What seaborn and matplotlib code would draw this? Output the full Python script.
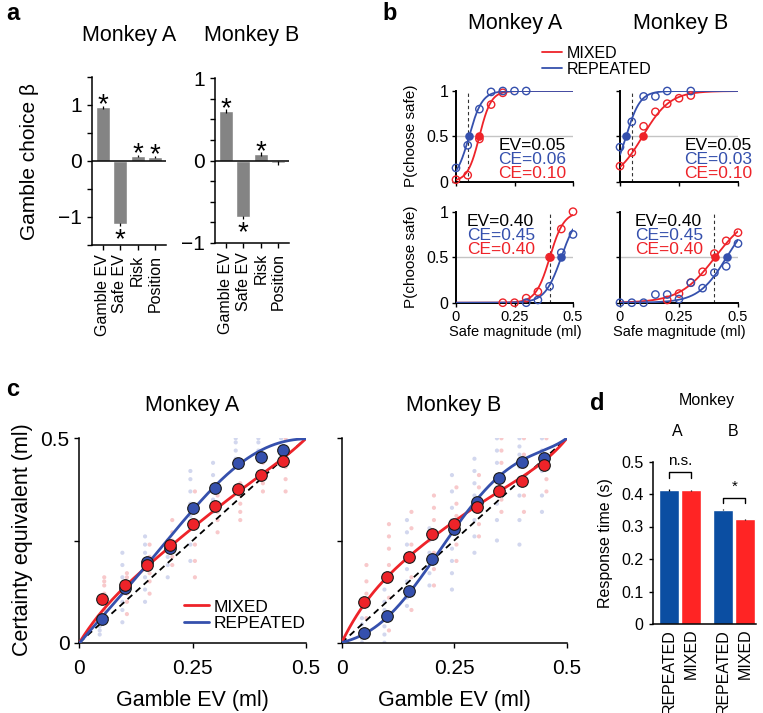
import numpy as np
import pandas as pd
import matplotlib
matplotlib.use("Agg")
import matplotlib.pyplot as plt
import seaborn as sns
from matplotlib.lines import Line2D

# ---------------- panel a data ----------------
regressors = ["Gamble EV", "Safe EV", "Risk", "Position"]
beta_A = [0.96, -1.13, 0.09, 0.07]
beta_A_err = [0.03, 0.03, 0.02, 0.02]
sig_A = [True, True, True, True]
beta_B = [0.60, -0.69, 0.08, -0.03]
beta_B_err = [0.02, 0.02, 0.02, 0.02]
sig_B = [True, True, True, False]

# ---------------- panel b data ----------------
ev_low = 0.05
ev_high = 0.40
bA_low_rep_x = [0.00, 0.05, 0.10, 0.15, 0.20, 0.25, 0.30]
bA_low_rep_p = [0.15, 0.40, 0.80, 0.99, 1.00, 1.00, 1.00]
bA_low_mix_x = [0.00, 0.05, 0.10, 0.15, 0.20]
bA_low_mix_p = [0.02, 0.07, 0.47, 0.85, 0.98]
bB_low_rep_x = [0.00, 0.05, 0.10, 0.15, 0.20, 0.30]
bB_low_rep_p = [0.38, 0.66, 0.94, 0.94, 1.00, 1.00]
bB_low_mix_x = [0.00, 0.05, 0.10, 0.15, 0.20, 0.25, 0.30]
bB_low_mix_p = [0.17, 0.32, 0.61, 0.77, 0.86, 0.92, 0.95]
bA_high_rep_x = [0.30, 0.35, 0.40, 0.45, 0.50]
bA_high_rep_p = [0.00, 0.03, 0.18, 0.55, 0.75]
bA_high_mix_x = [0.20, 0.25, 0.30, 0.35, 0.40, 0.45, 0.50]
bA_high_mix_p = [0.00, 0.00, 0.05, 0.12, 0.50, 0.81, 1.00]
bB_high_rep_x = [0.00, 0.05, 0.10, 0.15, 0.20, 0.25, 0.30, 0.35, 0.40, 0.45, 0.50]
bB_high_rep_p = [0.00, 0.00, 0.00, 0.09, 0.09, 0.04, 0.22, 0.16, 0.33, 0.40, 0.65]
bB_high_mix_x = [0.20, 0.25, 0.30, 0.35, 0.40, 0.45, 0.50]
bB_high_mix_p = [0.03, 0.10, 0.22, 0.34, 0.54, 0.68, 0.77]
# fitted logistic parameters (indifference point = CE, width)
bA_low_fit_rep = (0.056, 0.028)
bA_low_fit_mix = (0.100, 0.025)
bB_low_fit_rep = (0.026, 0.030)
bB_low_fit_mix = (0.096, 0.058)
bA_high_fit_rep = (0.450, 0.035)
bA_high_fit_mix = (0.401, 0.030)
bB_high_fit_rep = (0.452, 0.060)
bB_high_fit_mix = (0.403, 0.075)
bA_low_text = ["EV=0.05", "CE=0.06", "CE=0.10"]
bB_low_text = ["EV=0.05", "CE=0.03", "CE=0.10"]
bA_high_text = ["EV=0.40", "CE=0.45", "CE=0.40"]
bB_high_text = ["EV=0.40", "CE=0.45", "CE=0.40"]

# ---------------- panel c data ----------------
gamble_ev = [0.05, 0.10, 0.15, 0.20, 0.25, 0.30, 0.35, 0.40, 0.45]
cA_mix_mean = [0.106, 0.140, 0.189, 0.239, 0.291, 0.334, 0.376, 0.410, 0.445]
cA_rep_mean = [0.057, 0.135, 0.198, 0.231, 0.330, 0.378, 0.440, 0.455, 0.471]
cB_mix_mean = [0.100, 0.161, 0.210, 0.266, 0.290, 0.333, 0.370, 0.396, 0.435]
cB_rep_mean = [0.024, 0.065, 0.126, 0.205, 0.277, 0.343, 0.404, 0.442, 0.451]
curve_ev = [0.0, 0.05, 0.10, 0.15, 0.20, 0.25, 0.30, 0.35, 0.40, 0.45, 0.50]
cA_mix_curve = [0.0, 0.076, 0.137, 0.188, 0.235, 0.280, 0.325, 0.370, 0.410, 0.451, 0.500]
cA_rep_curve = [0.0, 0.057, 0.130, 0.198, 0.251, 0.325, 0.382, 0.439, 0.470, 0.489, 0.500]
cB_mix_curve = [0.0, 0.096, 0.157, 0.210, 0.261, 0.296, 0.329, 0.374, 0.406, 0.443, 0.500]
cB_rep_curve = [0.0, 0.023, 0.060, 0.120, 0.200, 0.276, 0.350, 0.406, 0.447, 0.471, 0.500]
cA_rep_sessions = [
    [0.02, 0.03, 0.04, 0.05, 0.06, 0.065],
    [0.05, 0.08, 0.10, 0.12, 0.14, 0.16, 0.19, 0.22],
    [0.10, 0.13, 0.16, 0.18, 0.20, 0.22, 0.24, 0.26],
    [0.16, 0.19, 0.21, 0.23, 0.25],
    [0.20, 0.24, 0.28, 0.31, 0.34, 0.37, 0.40, 0.42],
    [0.32, 0.35, 0.38, 0.41, 0.44],
    [0.43, 0.45, 0.47, 0.49, 0.50],
    [0.45, 0.47, 0.49, 0.50],
    [0.44, 0.46, 0.48, 0.50],
]
cA_mix_sessions = [
    [0.08, 0.10, 0.12, 0.14, 0.15, 0.16],
    [0.07, 0.10, 0.12, 0.14, 0.16, 0.17],
    [0.12, 0.15, 0.17, 0.19, 0.21, 0.24],
    [0.19, 0.21, 0.23, 0.25, 0.27, 0.30],
    [0.16, 0.20, 0.24, 0.28, 0.30, 0.33, 0.37],
    [0.27, 0.30, 0.32, 0.34, 0.36],
    [0.30, 0.32, 0.34, 0.36, 0.39],
    [0.37, 0.39, 0.41, 0.42, 0.44],
    [0.37, 0.40, 0.43, 0.45, 0.47, 0.50],
]
cB_rep_sessions = [
    [0.00, 0.01, 0.02, 0.03, 0.045, 0.06],
    [0.00, 0.02, 0.04, 0.06, 0.08, 0.10, 0.13],
    [0.09, 0.11, 0.13, 0.15, 0.18, 0.21, 0.24, 0.27, 0.30],
    [0.14, 0.17, 0.20, 0.22, 0.25, 0.28],
    [0.13, 0.17, 0.20, 0.23, 0.27, 0.30, 0.33, 0.37, 0.41],
    [0.22, 0.26, 0.30, 0.33, 0.36, 0.39, 0.42, 0.45],
    [0.25, 0.30, 0.34, 0.38, 0.41, 0.44, 0.47, 0.50],
    [0.24, 0.30, 0.36, 0.40, 0.43, 0.46, 0.48, 0.50],
    [0.32, 0.36, 0.42, 0.45, 0.47, 0.50],
]
cB_mix_sessions = [
    [0.03, 0.06, 0.09, 0.12, 0.15, 0.19],
    [0.03, 0.07, 0.11, 0.15, 0.19, 0.23, 0.26, 0.29],
    [0.08, 0.12, 0.16, 0.20, 0.24, 0.28, 0.32],
    [0.14, 0.18, 0.22, 0.26, 0.30, 0.33, 0.36],
    [0.20, 0.24, 0.28, 0.31, 0.34, 0.38],
    [0.26, 0.29, 0.32, 0.35, 0.38, 0.41],
    [0.32, 0.35, 0.38, 0.41, 0.44, 0.47, 0.50],
    [0.32, 0.36, 0.40, 0.43, 0.46, 0.50],
    [0.37, 0.40, 0.43, 0.46, 0.50],
]

# ---------------- panel d data ----------------
rt_condition = ["REPEATED", "MIXED", "REPEATED", "MIXED"]
rt_monkey = ["A", "A", "B", "B"]
rt_value = [0.413, 0.411, 0.352, 0.322]
rt_err = [0.003, 0.002, 0.002, 0.001]
rt_sig = ["n.s.", "*"]

# ---------------- style ----------------
sns.set_theme(style="ticks", rc={
    "axes.edgecolor": "black", "xtick.color": "black", "ytick.color": "black",
    "text.color": "black", "axes.labelcolor": "black", "axes.linewidth": 1.1,
    "xtick.major.width": 1.0, "ytick.major.width": 1.0,
    "xtick.major.size": 3.5, "ytick.major.size": 3.5,
})
plt.rcParams["font.family"] = ["Liberation Sans", "DejaVu Sans"]

RED = "#ee2329"
BLUE = "#3550ad"
GREY = "#848484"
D_BLUE = "#0b4ea2"
D_RED = "#ff2424"

W, H = 763, 713
fig = plt.figure(figsize=(W / 100, H / 100), dpi=100)


def add_ax(l, t, r, b):
    return fig.add_axes([l / W, 1 - b / H, (r - l) / W, (b - t) / H])


def ftext(x, y, s, **kw):
    fig.text(x / W, 1 - y / H, s, **kw)


def clean(ax):
    sns.despine(ax=ax)


# ---------------- panel a ----------------
def beta_panel(ax, vals, errs, sig, ylim, yticks):
    df = pd.DataFrame({"reg": regressors, "beta": vals})
    sns.barplot(data=df, x="reg", y="beta", color=GREY, saturation=1,
                width=0.8, errorbar=None, ax=ax, zorder=2)
    ax.errorbar(range(len(vals)), vals, yerr=errs, fmt="none",
                ecolor="black", elinewidth=0.9, capsize=0, zorder=3)
    ax.axhline(0, color="black", lw=1.1, zorder=4)
    ax.set_xlim(-0.6, 3.6)
    ax.set_ylim(*ylim)
    ax.set_yticks(yticks)
    ax.set_yticklabels(["\u22121" if t == -1 else ("0" if t == 0 else ("1" if t == 1 else ""))
                        for t in yticks], fontsize=15)
    ax.set_xticks(range(len(regressors)))
    ax.set_xticklabels(regressors, rotation=90, fontsize=11.5)
    ax.set_xlabel("")
    ax.set_ylabel("")
    fs = 20
    em = fs * 100 / 72
    for i, (v, e, s) in enumerate(zip(vals, errs, sig)):
        if not s:
            continue
        if v > 0:
            off = (9.5 - 0.575 * em) * 72 / 100
            ax.annotate("*", (i, v + e), xytext=(0, off), textcoords="offset points",
                        ha="center", va="baseline", fontsize=fs)
        else:
            off = (-5.0 - 0.575 * em) * 72 / 100
            ax.annotate("*", (i, v - e), xytext=(0, off), textcoords="offset points",
                        ha="center", va="baseline", fontsize=fs)
    clean(ax)


axA = add_ax(92, 77, 165.5, 245)
beta_panel(axA, beta_A, beta_A_err, sig_A, (-1.5, 1.5),
           [-1.5, -1, -0.5, 0, 0.5, 1, 1.5])
axB = add_ax(215, 78, 289, 243)
beta_panel(axB, beta_B, beta_B_err, sig_B, (-1, 1),
           [-1, -0.75, -0.5, -0.25, 0, 0.25, 0.5, 0.75, 1])
ftext(129, 36, "Monkey A", ha="center", va="center", fontsize=15.5)
ftext(252, 36, "Monkey B", ha="center", va="center", fontsize=15.5)
ftext(30, 161, "Gamble choice \u03b2", rotation=90, ha="center", va="center", fontsize=15)


# ---------------- panel b ----------------
def logistic(x, mid, width):
    return 1.0 / (1.0 + np.exp(-(x - mid) / width))


def psy_panel(ax, ev, rep_x, rep_p, mix_x, mix_p, fit_rep, fit_mix, texts,
              text_pos, left, bottom):
    xs = np.linspace(0, 0.5, 300)
    ax.axhline(0.5, color="#c4c4c4", lw=1.0, zorder=1)
    ax.axvline(ev, color="#333333", lw=0.8, ls=(0, (3, 2.5)), zorder=1)
    sns.lineplot(x=xs, y=logistic(xs, *fit_mix), color=RED, lw=1.3, ax=ax, zorder=3)
    sns.lineplot(x=xs, y=logistic(xs, *fit_rep), color=BLUE, lw=1.3, ax=ax, zorder=3)
    sns.scatterplot(x=mix_x, y=mix_p, marker="o", s=28, facecolor="none",
                    edgecolor=RED, linewidth=1.0, ax=ax, zorder=4, clip_on=False)
    sns.scatterplot(x=rep_x, y=rep_p, marker="o", s=28, facecolor="none",
                    edgecolor=BLUE, linewidth=1.0, ax=ax, zorder=4, clip_on=False)
    sns.scatterplot(x=[fit_mix[0]], y=[0.5], marker="o", s=38, color=RED,
                    linewidth=0, ax=ax, zorder=5)
    sns.scatterplot(x=[fit_rep[0]], y=[0.5], marker="o", s=38, color=BLUE,
                    linewidth=0, ax=ax, zorder=5)
    ax.set_xlim(0, 0.5)
    ax.set_ylim(0, 1)
    ax.set_xticks([0, 0.25, 0.5])
    ax.set_yticks([0, 0.5, 1])
    if bottom:
        ax.set_xticklabels(["0", "0.25", "0.5"], fontsize=10.5)
    else:
        ax.set_xticklabels([])
    if left:
        ax.set_yticklabels(["0", "0.5", "1"], fontsize=11.5)
    else:
        ax.set_yticklabels([])
    ax.tick_params(length=3, pad=2.5)
    for sp in ["left", "bottom"]:
        ax.spines[sp].set_linewidth(1.4)
    clean(ax)
    tx, ty, ha = text_pos
    for k, (t, c) in enumerate(zip(texts, ["black", BLUE, RED])):
        ftext(tx, ty + 14 * k, t, ha=ha, va="center", fontsize=12.5, color=c)


b1 = add_ax(456, 91, 573, 181.5)
psy_panel(b1, ev_low, bA_low_rep_x, bA_low_rep_p, bA_low_mix_x, bA_low_mix_p,
          bA_low_fit_rep, bA_low_fit_mix, bA_low_text, (566, 145.5, "right"), True, False)
b2 = add_ax(620, 91, 738, 181.5)
psy_panel(b2, ev_low, bB_low_rep_x, bB_low_rep_p, bB_low_mix_x, bB_low_mix_p,
          bB_low_fit_rep, bB_low_fit_mix, bB_low_text, (752, 145.5, "right"), False, False)
b3 = add_ax(456, 211.7, 573, 302.7)
psy_panel(b3, ev_high, bA_high_rep_x, bA_high_rep_p, bA_high_mix_x, bA_high_mix_p,
          bA_high_fit_rep, bA_high_fit_mix, bA_high_text, (467, 221, "left"), True, True)
b4 = add_ax(620, 211.7, 738, 302.7)
psy_panel(b4, ev_high, bB_high_rep_x, bB_high_rep_p, bB_high_mix_x, bB_high_mix_p,
          bB_high_fit_rep, bB_high_fit_mix, bB_high_text, (635, 221, "left"), False, True)
ftext(515, 23, "Monkey A", ha="center", va="center", fontsize=15.5)
ftext(681, 23, "Monkey B", ha="center", va="center", fontsize=15.5)
ftext(411, 136, "P(choose safe)", rotation=90, ha="center", va="center", fontsize=11)
ftext(411, 257, "P(choose safe)", rotation=90, ha="center", va="center", fontsize=11)
ftext(515, 332, "Safe magnitude (ml)", ha="center", va="center", fontsize=10.5)
ftext(679, 332, "Safe magnitude (ml)", ha="center", va="center", fontsize=10.5)
leg_b = fig.legend(handles=[Line2D([], [], color=RED, lw=1.3), Line2D([], [], color=BLUE, lw=1.3)],
                   labels=["MIXED", "REPEATED"], loc="upper left",
                   bbox_to_anchor=(542 / W, 1 - 46 / H), frameon=False, fontsize=11.5,
                   handlelength=1.25, handletextpad=0.3, labelspacing=0.05,
                   borderpad=0, borderaxespad=0)


# ---------------- panel c ----------------
def ce_panel(ax, rep_mean, mix_mean, rep_curve, mix_curve, rep_sess, mix_sess, left, legend):
    rows = []
    for ev, vals in zip(gamble_ev, rep_sess):
        rows += [(ev - 0.005, v, "rep") for v in vals]
    for ev, vals in zip(gamble_ev, mix_sess):
        rows += [(ev + 0.005, v, "mix") for v in vals]
    sess = pd.DataFrame(rows, columns=["ev", "ce", "cond"])
    sns.scatterplot(data=sess, x="ev", y="ce", hue="cond",
                    palette={"rep": "#d2d7ee", "mix": "#f8c9cb"}, s=9, linewidth=0,
                    legend=False, ax=ax, zorder=1)
    ax.plot([0, 0.5], [0, 0.5], color="black", lw=1.3, ls=(0, (3.5, 2.5)), zorder=2)
    xs = np.linspace(0, 0.5, 300)
    mix_fit = np.polyval(np.polyfit(curve_ev, mix_curve, 5), xs)
    rep_fit = np.polyval(np.polyfit(curve_ev, rep_curve, 5), xs)
    sns.lineplot(x=xs, y=mix_fit, color=RED, lw=2.0, ax=ax, zorder=3, label="MIXED")
    sns.lineplot(x=xs, y=rep_fit, color=BLUE, lw=2.0, ax=ax, zorder=3, label="REPEATED")
    sns.scatterplot(x=gamble_ev, y=rep_mean, color=BLUE, s=70, edgecolor="#1a1a1a",
                    linewidth=0.8, ax=ax, zorder=4)
    sns.scatterplot(x=gamble_ev, y=mix_mean, color=RED, s=70, edgecolor="#1a1a1a",
                    linewidth=0.8, ax=ax, zorder=5)
    ax.set_xlim(0, 0.5)
    ax.set_ylim(0, 0.5)
    ax.set_xticks([0, 0.25, 0.5])
    ax.set_xticklabels(["0", "0.25", "0.5"], fontsize=15)
    ax.set_yticks([0, 0.25, 0.5])
    ax.set_yticklabels(["0", "", "0.5"] if left else [], fontsize=15)
    ax.tick_params(length=3.5)
    ax.tick_params(axis="x", pad=8)
    ax.set_xlabel("Gamble EV (ml)", fontsize=15.5, labelpad=9)
    ax.set_ylabel("")
    if legend:
        ax.legend(loc="lower right", bbox_to_anchor=(1.0, 0.055), frameon=False,
                  fontsize=12.5, handlelength=1.4, handletextpad=0.3, labelspacing=0.1,
                  borderaxespad=0, borderpad=0)
    else:
        ax.get_legend().remove()
    clean(ax)


cA = add_ax(79.3, 438.3, 306, 642.7)
ce_panel(cA, cA_rep_mean, cA_mix_mean, cA_rep_curve, cA_mix_curve, cA_rep_sessions,
         cA_mix_sessions, True, True)
cB = add_ax(341.7, 438.3, 566.7, 642.7)
ce_panel(cB, cB_rep_mean, cB_mix_mean, cB_rep_curve, cB_mix_curve, cB_rep_sessions,
         cB_mix_sessions, False, False)
ftext(192, 406, "Monkey A", ha="center", va="center", fontsize=15.5)
ftext(454, 406, "Monkey B", ha="center", va="center", fontsize=15.5)
ftext(23, 540, "Certainty equivalent (ml)", rotation=90, ha="center", va="center", fontsize=15.5)

# ---------------- panel d ----------------
dax = add_ax(652.7, 461.5, 756, 624)
rt_pos = [0, 1, 2.5, 3.5]
rt_df = pd.DataFrame({"pos": rt_pos, "rt": rt_value, "cond": rt_condition})
sns.barplot(data=rt_df, x="pos", y="rt", hue="cond", native_scale=True, dodge=False,
            palette={"REPEATED": D_BLUE, "MIXED": D_RED}, saturation=1, width=0.92,
            errorbar=None, legend=False, ax=dax)
dax.errorbar(rt_pos, rt_value, yerr=rt_err, fmt="none", ecolor="black", elinewidth=0.9, capsize=0)
dax.set_xlim(-0.76, 4.0)
dax.set_ylim(0, 0.5)
dax.set_yticks([0, 0.1, 0.2, 0.3, 0.4, 0.5])
dax.set_yticklabels(["0", "0.1", "0.2", "0.3", "0.4", "0.5"], fontsize=11.5)
dax.set_xticks(rt_pos)
dax.set_xticklabels(rt_condition, rotation=90, fontsize=11.5)
dax.tick_params(axis="x", length=0)
dax.tick_params(axis="y", length=3)
dax.set_xlabel("")
dax.set_ylabel("Response time (s)", fontsize=11.5, labelpad=6)
clean(dax)
for (x0, x1), ytop, ydrop, lab in [((0, 1), 0.468, 0.448, rt_sig[0]), ((2.5, 3.5), 0.388, 0.372, rt_sig[1])]:
    dax.plot([x0, x0, x1, x1], [ydrop, ytop, ytop, ydrop], color="black", lw=1.0, clip_on=False)
    dax.text((x0 + x1) / 2, ytop + 0.012, lab, ha="center", va="bottom", fontsize=11)
ftext(707, 401, "Monkey", ha="center", va="center", fontsize=11.5)
ftext(677, 432, "A", ha="center", va="center", fontsize=11.5)
ftext(733, 432, "B", ha="center", va="center", fontsize=11.5)

# ---------------- panel letters ----------------
for (x, y, s) in [(13, 14, "a"), (390, 14, "b"), (13, 389, "c"), (597, 404, "d")]:
    ftext(x, y, s, ha="center", va="center", fontsize=17, fontweight="bold")

fig.savefig("out.png", dpi=100)
